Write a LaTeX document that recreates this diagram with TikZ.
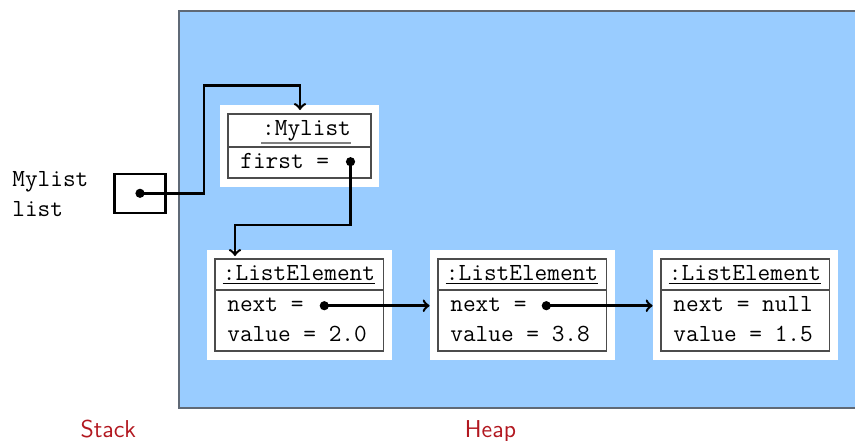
\documentclass[tikz,border=0pt]{standalone}
\usepackage{fontspec}
\definecolor{heapblue}{RGB}{153,204,255}
\definecolor{heapgray}{RGB}{95,105,118}
\definecolor{stackred}{RGB}{178,24,32}
\begin{document}
\begin{tikzpicture}[x=0.5pt,y=-0.5pt,
  tt/.style={font=\fontsize{12.3}{14}\selectfont\ttfamily, inner sep=0},
  bgbox/.style={fill=white, inner sep=0},
  objbox/.style={draw=black!70, line width=0.7pt, inner sep=0},
  objline/.style={black!70, line width=0.9pt},
  ptr/.style={->, line width=1.25pt},
  dotn/.style={circle, fill=black, inner sep=0, minimum size=4.6pt},
  lbl/.style={font=\fontsize{12.2}{14}\selectfont\sffamily, text=stackred, inner sep=0}]
\useasboundingbox (0,0) rectangle (855,440);
% heap
\fill[heapblue] (179,11) rectangle (856,408);
\draw[heapgray, line width=1pt] (857,11) -- (179,11) -- (179,408) -- (857,408);
% stack
\node[tt, anchor=base west] (varA) at (12,186) {Mylist};
\node[tt, anchor=base west] (varB) at (12,216) {list};
\node[draw, line width=1.35pt, minimum width=25.8pt, minimum height=19.5pt, inner sep=0] (sbox) at (140,193.5) {};
\node[dotn] (sdot) at (140,193.3) {};
% Mylist object
\node[bgbox, minimum width=79.5pt, minimum height=41pt] (mlbg) at (299.5,146) {};
\node[objbox, minimum width=71.5pt, minimum height=32pt] (mlin) at (299.5,146) {};
\coordinate (mlsep) at (0,146.7);
\draw[objline] (mlin.west |- mlsep) -- (mlin.east |- mlsep);
\node[tt, anchor=base] (mlh) at (306.5,135) {:Mylist};
\draw[gray, line width=1.1pt] (261,143.3) -- (351,143.3);
\node[tt, anchor=base west] (mlf) at (240,168) {first =};
\node[dotn] (fdot) at (350.5,161.7) {};
% list elements
\foreach \i/\dx/\nv/\vv in {1/0//2.0, 2/223//3.8, 3/446/null/1.5} {
  \begin{scope}[xshift=\dx*0.5pt]
    \node[bgbox, minimum width=92.5pt, minimum height=55pt] (bg\i) at (299.5,305) {};
    \node[objbox, minimum width=84.25pt, minimum height=46pt] (le\i) at (299.25,305) {};
    \coordinate (sep\i) at (0,290);
    \draw[objline] (le\i.west |- sep\i) -- (le\i.east |- sep\i);
    \node[tt, anchor=base] (h\i) at (299,280) {:ListElement};
    \draw[line width=0.55pt] (h\i.base west) ++(0,3.2) coordinate (ul\i) -- (h\i.base east |- ul\i);
    \node[tt, anchor=base west] (n\i) at (227,311.7) {next = \nv};
    \node[tt, anchor=base west] (v\i) at (227,341.7) {value = \vv};
  \end{scope}
}
\node[dotn] (d1) at (324.3,305.7) {};
\node[dotn] (d2) at (546.3,305.7) {};
% pointers
\coordinate (t1) at (300,110);
\draw[ptr] (sdot.center) -- (204,193.3) |- (300,85.5) -- (t1);
\coordinate (t2) at (235,256);
\draw[ptr] (fdot.center) |- (235,225) -- (t2);
\draw[ptr] (d1.center) -- (d1.center -| bg2.west);
\draw[ptr] (d2.center) -- (d2.center -| bg3.west);
% labels
\node[lbl, anchor=base] (stk) at (108.3,437) {Stack};
\node[lbl, anchor=base] (hp) at (490.5,437) {Heap};
\end{tikzpicture}
\end{document}
